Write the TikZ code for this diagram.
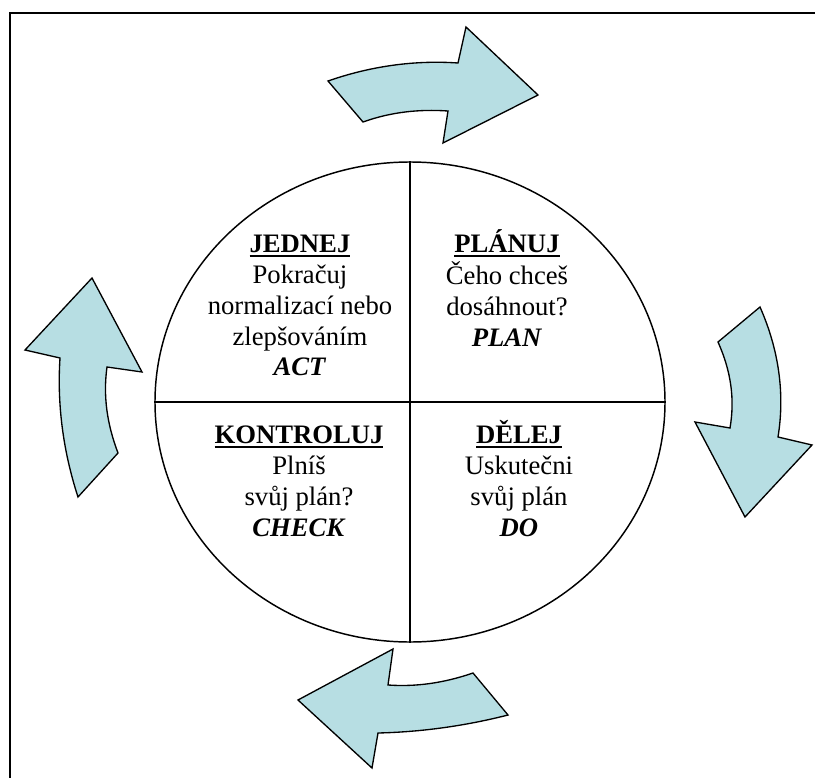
\documentclass[tikz,border=0pt]{standalone}
\usepackage{fontspec}
\setmainfont{Liberation Serif}
\usetikzlibrary{shapes.geometric}
\definecolor{arrowfill}{RGB}{183,222,227}
% bold title with a thick rule under it
\newcommand{\ulbox}[1]{\setbox0=\hbox{#1}\rlap{\rule[-3.7pt]{\wd0}{1.4pt}}\box0}
\tikzset{
  arrowshape/.style={draw=black, fill=arrowfill, line width=1pt},
  quad/.style={inner sep=0pt, anchor=base, font=\fontsize{20}{23.25}\selectfont},
}
\begin{document}
\begin{tikzpicture}[x=0.75pt, y=-0.75pt]
\useasboundingbox (0,0) rectangle (815,778);

% outer frame
\draw[line width=1.5pt] (9.5,13) rectangle (840,800);

% the PDCA wheel
\node[draw, line width=1.1pt, ellipse, minimum width=382.5pt, minimum height=360pt, inner sep=0pt] (wheel) at (410,402) {};
\draw[line width=1.1pt] (wheel.north) -- (wheel.south);
\draw[line width=1.1pt] (wheel.west) -- (wheel.east);

% quadrant texts
\node[quad] (act) at (300,252) {\begin{tabular}[t]{@{}c@{}}\ulbox{\bfseries JEDNEJ}\\ Pokračuj\\ normalizací nebo\\ zlepšováním\\ \textbf{\textit{ACT}}\end{tabular}};
\node[quad] (plan) at (507,252) {\begin{tabular}[t]{@{}c@{}}\ulbox{\bfseries PLÁNUJ}\\ Čeho chceš\\ dosáhnout?\\ \textbf{\textit{PLAN}}\end{tabular}};
\node[quad] (check) at (299,443) {\begin{tabular}[t]{@{}c@{}}\ulbox{\bfseries KONTROLUJ}\\ Plníš\\ svůj plán?\\ \textbf{\textit{CHECK}}\end{tabular}};
\node[quad] (do) at (519,443) {\begin{tabular}[t]{@{}c@{}}\ulbox{\bfseries DĚLEJ}\\ Uskutečni\\ svůj plán\\ \textbf{\textit{DO}}\end{tabular}};

% curved arrows around the wheel
\draw[arrowshape] (328,81) .. controls (371,66) and (415,60) .. (458,63) -- (466,27) -- (538,95) -- (443,143) -- (448,111) .. controls (419,109) and (391,112) .. (363,122) -- cycle;
\draw[arrowshape] (760,307) .. controls (779,350) and (785,394) .. (778,437) -- (812,445) -- (745,517) -- (695,422) -- (730,428) .. controls (735,399) and (731,371) .. (718,342) -- cycle;
\draw[arrowshape] (508,715) .. controls (465,726) and (421,732) .. (378,733) -- (372,768) -- (298,700) -- (393,649) -- (388,685) .. controls (416,687) and (444,683) .. (473,673) -- cycle;
\draw[arrowshape] (78,497) -- (118,453) .. controls (107,424) and (103,396) .. (107,367) -- (142,372) -- (92,278) -- (25,350) -- (60,358) .. controls (57,404) and (63,451) .. cycle;
\end{tikzpicture}
\end{document}
